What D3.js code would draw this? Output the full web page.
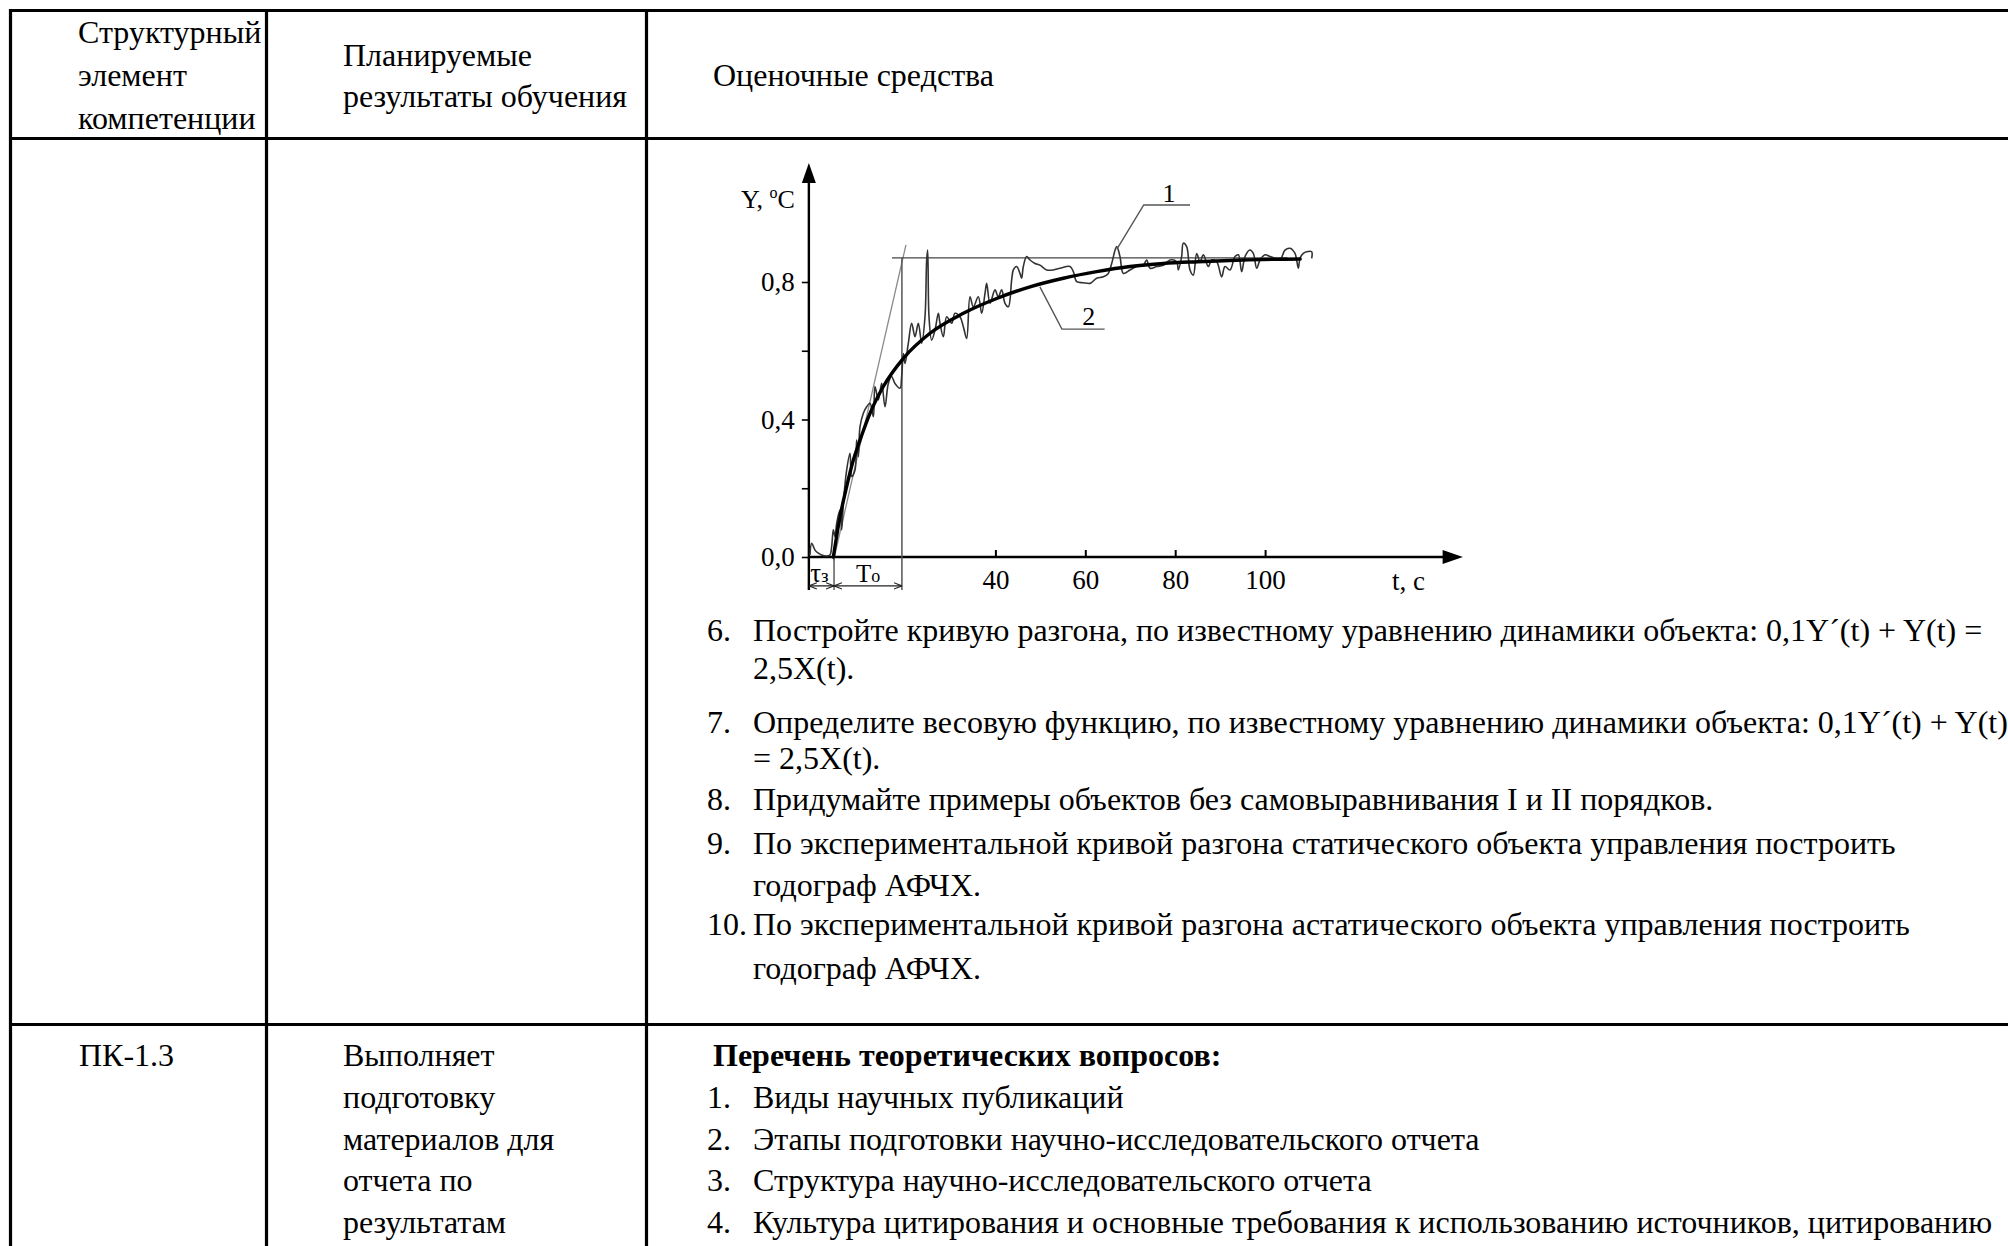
<!DOCTYPE html>
<html><head><meta charset="utf-8">
<script src="https://cdn.jsdelivr.net/npm/d3@7"></script>
<style>
html,body{margin:0;padding:0;background:#fff;}
svg{display:block;}
text{font-family:"Liberation Serif","Times New Roman",serif;fill:#000;}
</style></head>
<body>
<svg id="page" width="2008" height="1246"></svg>
<script>
// ---------- TEXT CONTENT ----------
const headerCol1 = ["Структурный", "элемент", "компетенции"];
const headerCol2 = ["Планируемые", "результаты обучения"];
const headerCol3 = ["Оценочные средства"];
const tasks = [
  {num: "6.", lines: ["Постройте кривую разгона, по известному уравнению динамики объекта: 0,1Y´(t) + Y(t) =", "2,5X(t)."]},
  {num: "7.", lines: ["Определите весовую функцию, по известному уравнению динамики объекта: 0,1Y´(t) + Y(t)", "= 2,5X(t)."]},
  {num: "8.", lines: ["Придумайте примеры объектов без самовыравнивания I и II порядков."]},
  {num: "9.", lines: ["По экспериментальной кривой разгона статического объекта управления построить", "годограф АФЧХ."]},
  {num: "10.", lines: ["По экспериментальной кривой разгона астатического объекта управления построить", "годограф АФЧХ."]}
];
const row2Col1 = ["ПК-1.3"];
const row2Col2 = ["Выполняет", "подготовку", "материалов для", "отчета по", "результатам"];
const row2Heading = "Перечень теоретических вопросов:";
const questions = [
  {num: "1.", text: "Виды научных публикаций"},
  {num: "2.", text: "Этапы подготовки научно-исследовательского отчета"},
  {num: "3.", text: "Структура научно-исследовательского отчета"},
  {num: "4.", text: "Культура цитирования и основные требования к использованию источников, цитированию"}
];

// ---------- CHART DATA ----------
const xTickValues = [40, 60, 80, 100];
const yTickValues = [0, 0.2, 0.4, 0.6, 0.8];
const yTickLabels = {"0": "0,0", "0.4": "0,4", "0.8": "0,8"};
const yAxisTitle = "Y, ";
const xAxisTitle = "t, c";
const tauDelay = 4.1;      // τз end
const tObjectEnd = 19.2;   // Tо end
const yInfinity = 0.87;    // steady-state value
const tangentLine = [[4.0, -0.01], [20.1, 0.908]];
const asymptoteRange = [17.0, 105];
const curveLabels = [{name: "1", t: 67.0, y: 0.895}, {name: "2", t: 49.9, y: 0.786}];

// curve 1: experimental (noisy) response
const experimental = [
  [-1.25,0.006],[-0.87,0.040],[-0.13,0.020],[0.61,0.011],[1.35,0.006],[2.46,0.003],[3.20,0.006],
  [3.57,0.030],[3.95,0.079],[4.32,0.059],[4.69,0.098],[5.43,0.137],[5.80,0.079],[6.17,0.156],
  [6.91,0.253],[7.65,0.302],[8.02,0.234],[8.77,0.253],[9.14,0.340],[9.51,0.292],[9.88,0.379],
  [10.62,0.418],[11.36,0.437],[12.10,0.447],[12.84,0.408],[13.21,0.496],[13.96,0.457],[14.70,0.505],
  [15.44,0.437],[16.18,0.505],[16.92,0.525],[17.66,0.505],[18.78,0.491],[19.15,0.525],[19.52,0.592],
  [19.89,0.563],[20.63,0.622],[21.37,0.680],[22.11,0.641],[22.85,0.680],[23.60,0.622],[24.34,0.699],
  [24.71,0.864],[24.93,0.893],[25.23,0.699],[25.82,0.631],[26.56,0.660],[27.30,0.709],[27.67,0.680],
  [28.42,0.641],[29.16,0.699],[30.27,0.680],[31.01,0.709],[32.12,0.699],[32.87,0.670],[33.61,0.636],
  [34.35,0.757],[35.09,0.728],[36.20,0.757],[36.95,0.709],[37.69,0.767],[38.06,0.796],[38.80,0.738],
  [39.91,0.777],[40.65,0.757],[41.39,0.777],[42.14,0.738],[42.88,0.728],[43.62,0.806],[43.99,0.835],
  [44.73,0.845],[45.47,0.825],[45.84,0.811],[46.21,0.845],[46.96,0.874],[47.70,0.864],[48.81,0.854],
  [49.92,0.849],[51.41,0.835],[52.89,0.835],[54.37,0.840],[56.60,0.845],[57.34,0.830],[58.08,0.801],
  [59.56,0.798],[61.05,0.796],[62.53,0.811],[64.01,0.815],[65.12,0.825],[65.87,0.854],[66.98,0.903],
  [67.72,0.874],[68.46,0.825],[69.94,0.835],[71.43,0.845],[72.91,0.849],[73.65,0.864],[74.39,0.840],
  [75.88,0.845],[77.36,0.849],[78.84,0.864],[80.33,0.859],[80.69,0.835],[81.43,0.874],[81.80,0.913],
  [82.55,0.903],[83.29,0.835],[84.03,0.820],[84.78,0.883],[85.52,0.859],[86.26,0.879],[87.37,0.845],
  [88.11,0.864],[89.23,0.859],[90.34,0.815],[91.08,0.845],[92.19,0.835],[93.30,0.874],[94.05,0.879],
  [94.79,0.830],[95.53,0.874],[96.64,0.893],[97.38,0.883],[98.13,0.840],[98.87,0.864],[99.98,0.879],
  [101.09,0.874],[102.20,0.869],[103.32,0.864],[104.43,0.893],[105.54,0.898],[106.65,0.883],
  [107.39,0.840],[107.76,0.869],[108.50,0.883],[109.25,0.888],[110.36,0.888],[110.36,0.869]
];
// curve 2: model (approximation) response
const model = [
  [3.95,0.0],[5.43,0.117],[6.91,0.205],[8.4,0.282],[9.88,0.340],[12.10,0.418],[15.07,0.496],
  [19.52,0.578],[25.45,0.651],[32.87,0.709],[40.28,0.752],[47.70,0.786],[55.12,0.811],[62.53,0.830],
  [69.94,0.845],[77.36,0.854],[85,0.859],[95,0.864],[107.8,0.867]
];

// ---------- PAGE / TABLE ----------
const svg = d3.select("#page");
svg.append("rect").attr("width", 2008).attr("height", 1246).attr("fill", "#fff");

const grid = svg.append("g").attr("stroke", "#000").attr("stroke-width", 3.2).attr("fill", "none");
const tableTop = 10.5, headerBottom = 138.5, rowSep = 1024.5, tableLeft = 10.5;
const colLines = [266.5, 646.5];
[tableTop, headerBottom, rowSep].forEach(yv => grid.append("line").attr("x1", tableLeft - 1.5).attr("x2", 2010).attr("y1", yv).attr("y2", yv));
[tableLeft, ...colLines].forEach(xv => grid.append("line").attr("x1", xv).attr("x2", xv).attr("y1", tableTop - 1.5).attr("y2", 1250));

const FS = 32;
function lines(arr, x, y0, dy, opts = {}) {
  arr.forEach((s, i) => {
    const t = svg.append("text").attr("x", x).attr("y", y0 + i * dy).attr("font-size", opts.size || FS).text(s);
    if (opts.bold) t.attr("font-weight", "bold");
  });
}
lines(headerCol1, 78, 43, 43);
lines(headerCol2, 343, 66, 41);
lines(headerCol3, 713, 86, 41);

const taskBaselines = [[641, 679], [733, 769], [810], [854, 896], [935, 979]];
tasks.forEach((tk, i) => {
  svg.append("text").attr("x", 707).attr("y", taskBaselines[i][0]).attr("font-size", FS).text(tk.num);
  tk.lines.forEach((ln, j) => svg.append("text").attr("x", 753).attr("y", taskBaselines[i][j]).attr("font-size", FS).text(ln));
});

lines(row2Col1, 79, 1066, 42);
lines(row2Col2, 343, 1066, 41.75);
svg.append("text").attr("x", 713).attr("y", 1066).attr("font-size", FS).attr("font-weight", "bold").text(row2Heading);
questions.forEach((q, i) => {
  const yb = 1108 + i * 41.7;
  svg.append("text").attr("x", 707).attr("y", yb).attr("font-size", FS).text(q.num);
  svg.append("text").attr("x", 753).attr("y", yb).attr("font-size", FS).text(q.text);
});

// ---------- CHART ----------
const x = d3.scaleLinear().domain([0, 100]).range([815.6, 1265.1]);
const y = d3.scaleLinear().domain([0, 0.8]).range([557, 282]);
const chart = svg.append("g");
const axisX0 = x(-1.5);

// axes lines with arrows
chart.append("line").attr("x1", axisX0).attr("x2", axisX0).attr("y1", y(-0.096)).attr("y2", y(1.12))
  .attr("stroke", "#000").attr("stroke-width", 2.4);
chart.append("path").attr("d", `M${axisX0},${y(1.146)} L${axisX0 - 7},${y(1.088)} L${axisX0 + 7},${y(1.088)} Z`).attr("fill", "#000");
chart.append("line").attr("x1", axisX0).attr("x2", x(140)).attr("y1", y(0)).attr("y2", y(0))
  .attr("stroke", "#000").attr("stroke-width", 2.4);
chart.append("path").attr("d", `M${x(144)},${y(0)} L${x(139.5)},${y(0) - 7} L${x(139.5)},${y(0) + 7} Z`).attr("fill", "#000");

// x axis ticks (inside) + labels
const xAxis = d3.axisBottom(x).tickValues(xTickValues).tickSizeInner(-7).tickSizeOuter(0).tickPadding(13).tickFormat(d3.format("d"));
const gx = chart.append("g").attr("transform", `translate(0,${y(0)})`).call(xAxis);
gx.select(".domain").remove();
gx.selectAll("line").attr("stroke", "#000").attr("stroke-width", 2);
gx.selectAll("text").attr("font-family", "Liberation Serif").attr("font-size", 27).attr("fill", "#000");

// y axis ticks (outside) + labels
const yAxis = d3.axisLeft(y).tickValues(yTickValues).tickSizeInner(7).tickSizeOuter(0).tickPadding(7)
  .tickFormat(d => yTickLabels[String(d)] || "");
const gy = chart.append("g").attr("transform", `translate(${axisX0},0)`).call(yAxis);
gy.select(".domain").remove();
gy.selectAll("line").attr("stroke", "#000").attr("stroke-width", 1.6);
gy.selectAll("text").attr("font-family", "Liberation Serif").attr("font-size", 27).attr("fill", "#000");

// axis titles
const yt = chart.append("text").attr("x", 741).attr("y", 208).attr("font-size", 26);
yt.append("tspan").text(yAxisTitle);
yt.append("tspan").attr("font-size", 16).attr("dy", -10).text("o");
yt.append("tspan").attr("dy", 10).text("C");
chart.append("text").attr("x", 1392).attr("y", 590).attr("font-size", 27).text(xAxisTitle);

// construction lines
chart.append("line").attr("x1", x(tangentLine[0][0])).attr("y1", y(tangentLine[0][1]))
  .attr("x2", x(tangentLine[1][0])).attr("y2", y(tangentLine[1][1])).attr("stroke", "#8a8a8a").attr("stroke-width", 1.3);
chart.append("line").attr("x1", x(asymptoteRange[0])).attr("x2", x(asymptoteRange[1])).attr("y1", y(yInfinity)).attr("y2", y(yInfinity))
  .attr("stroke", "#444").attr("stroke-width", 1.3);
chart.append("line").attr("x1", x(tObjectEnd)).attr("x2", x(tObjectEnd)).attr("y1", y(yInfinity)).attr("y2", y(-0.096))
  .attr("stroke", "#555").attr("stroke-width", 1.5);
chart.append("line").attr("x1", x(tauDelay)).attr("x2", x(tauDelay)).attr("y1", y(0)).attr("y2", y(-0.096))
  .attr("stroke", "#444").attr("stroke-width", 1.3);

// dimension arrows
const defs = svg.append("defs");
["start", "end"].forEach(k => {
  defs.append("marker").attr("id", "arr-" + k).attr("viewBox", "0 0 10 10").attr("refX", k === "end" ? 10 : 0).attr("refY", 5)
    .attr("markerWidth", 8).attr("markerHeight", 8).attr("markerUnits", "userSpaceOnUse").attr("orient", "auto")
    .append("path").attr("d", k === "end" ? "M0,1 L10,5 L0,9" : "M10,1 L0,5 L10,9").attr("fill", "none").attr("stroke", "#222").attr("stroke-width", 1.4);
});
const dimY = y(-0.084);
[[-1.5, tauDelay], [tauDelay, tObjectEnd]].forEach(([a, b]) => {
  chart.append("line").attr("x1", x(a)).attr("x2", x(b)).attr("y1", dimY).attr("y2", dimY)
    .attr("stroke", "#222").attr("stroke-width", 1.3).attr("marker-start", "url(#arr-start)").attr("marker-end", "url(#arr-end)");
});
const tl = chart.append("text").attr("x", x(-1.2)).attr("y", 582).attr("font-size", 27);
tl.append("tspan").text("τ");
tl.append("tspan").attr("font-size", 19).text("з");
const tol = chart.append("text").attr("x", x(9.0)).attr("y", 582).attr("font-size", 25);
tol.append("tspan").text("Т");
tol.append("tspan").attr("font-size", 18).text("о");

// curves
const lineGen = d3.line().x(d => x(d[0])).y(d => y(d[1]));
chart.append("path").datum(experimental).attr("d", lineGen.curve(d3.curveCatmullRom.alpha(0.5)))
  .attr("fill", "none").attr("stroke", "#333").attr("stroke-width", 1.6).attr("stroke-linejoin", "round");
chart.append("path").datum(model).attr("d", d3.line().x(d => x(d[0])).y(d => y(d[1])).curve(d3.curveMonotoneX))
  .attr("fill", "none").attr("stroke", "#000").attr("stroke-width", 3.4).attr("stroke-linecap", "round");

// curve labels with leader lines
const lab1 = curveLabels[0], lab2 = curveLabels[1];
chart.append("path").attr("d", `M${x(lab1.t)},${y(lab1.y)} L${x(73)},${y(1.024)} L${x(83.3)},${y(1.024)}`)
  .attr("fill", "none").attr("stroke", "#555").attr("stroke-width", 1.4);
chart.append("text").attr("x", x(77.2)).attr("y", y(1.033)).attr("font-size", 26).text(lab1.name);
chart.append("path").attr("d", `M${x(lab2.t)},${y(lab2.y)} L${x(54.8)},${y(0.663)} L${x(64.3)},${y(0.663)}`)
  .attr("fill", "none").attr("stroke", "#555").attr("stroke-width", 1.4);
chart.append("text").attr("x", x(59.3)).attr("y", y(0.675)).attr("font-size", 26).text(lab2.name);
</script>
</body></html>
